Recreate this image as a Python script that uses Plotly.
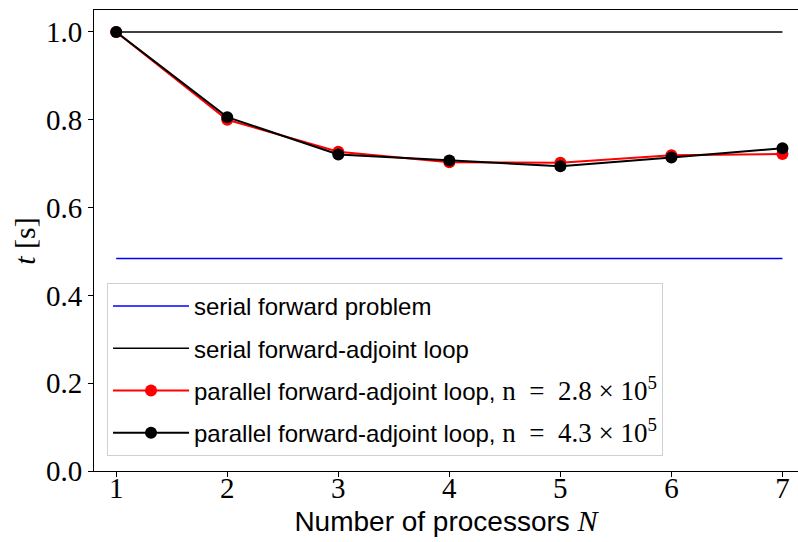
import plotly.graph_objects as go

# Number of processors and measured wall-clock times (seconds, normalised)
processors = [1, 2, 3, 4, 5, 6, 7]
t_parallel_n28 = [1.0, 0.800, 0.727, 0.703, 0.702, 0.719, 0.722]
t_parallel_n43 = [1.0, 0.806, 0.721, 0.707, 0.694, 0.714, 0.735]
t_serial_forward = 0.484
t_serial_loop = 1.0

x_ticks = [1, 2, 3, 4, 5, 6, 7]
y_ticks = [0.0, 0.2, 0.4, 0.6, 0.8, 1.0]

SANS = "Liberation Sans"
SERIF = "Liberation Serif"
SP = "&nbsp;"


def math(s, size=None):
    style = f"font-family:'{SERIF}'"
    if size:
        style += f";font-size:{size}px"
    return f"<span style=\"{style}\">{s}</span>"


def n_label(mantissa):
    return math(f"n{SP}{SP}={SP}{SP}{mantissa}{SP}×{SP}10<sup>5</sup>", 27)


fig = go.Figure()

fig.add_trace(go.Scatter(
    x=[processors[0], processors[-1]], y=[t_serial_forward] * 2,
    mode="lines", line=dict(color="#0000ff", width=1.5),
    name="serial forward problem", legendgroup="a",
))
fig.add_trace(go.Scatter(
    x=[processors[0], processors[-1]], y=[t_serial_loop] * 2,
    mode="lines", line=dict(color="#000000", width=1.5),
    name="serial forward-adjoint loop", legendgroup="b",
))
fig.add_trace(go.Scatter(
    x=processors, y=t_parallel_n28, mode="lines+markers",
    line=dict(color="#ff0000", width=2),
    marker=dict(color="#ff0000", size=12),
    name="parallel forward-adjoint loop, " + n_label("2.8"),
    legendgroup="c",
))
fig.add_trace(go.Scatter(
    x=processors, y=t_parallel_n43, mode="lines+markers",
    line=dict(color="#000000", width=2),
    marker=dict(color="#000000", size=12),
    name="parallel forward-adjoint loop, " + n_label("4.3"),
    legendgroup="d",
))

axis_common = dict(
    showgrid=False, zeroline=False, showline=True, linecolor="#000000",
    linewidth=1, ticks="outside", ticklen=5, tickwidth=1, tickcolor="#000000",
    tickfont=dict(family=SERIF, size=29, color="#000000"),
)

fig.update_layout(
    width=798, height=542,
    margin=dict(l=94, r=0, t=10, b=71),
    paper_bgcolor="white", plot_bgcolor="white",
    xaxis=dict(
        range=[0.8, 7.14], tickvals=x_ticks, ticktext=[str(v) for v in x_ticks],
        mirror=True, ticklabelstandoff=-14,
        title=dict(text="Number of processors " + math("<i>N</i>", 30),
                   font=dict(family=SANS, size=28, color="#000000"), standoff=0),
        **axis_common,
    ),
    yaxis=dict(
        range=[0, 1.05], tickvals=y_ticks, ticktext=[f"{v:.1f}" for v in y_ticks],
        **axis_common,
    ),
    annotations=[dict(
        text=math("<i>t</i> [s]"), textangle=-90,
        xref="paper", yref="paper", x=-0.099, y=0.50,
        xanchor="center", yanchor="middle", showarrow=False,
        font=dict(family=SERIF, size=30, color="#000000"),
    )],
    legend=dict(
        x=0.0185, y=0.0325, xanchor="left", yanchor="bottom",
        bgcolor="white", bordercolor="#d0d0d0", borderwidth=1,
        font=dict(family=SANS, size=24, color="#000000"),
        tracegroupgap=8, traceorder="grouped", itemwidth=76,
    ),
    showlegend=True,
)

fig.write_html("out.html")
